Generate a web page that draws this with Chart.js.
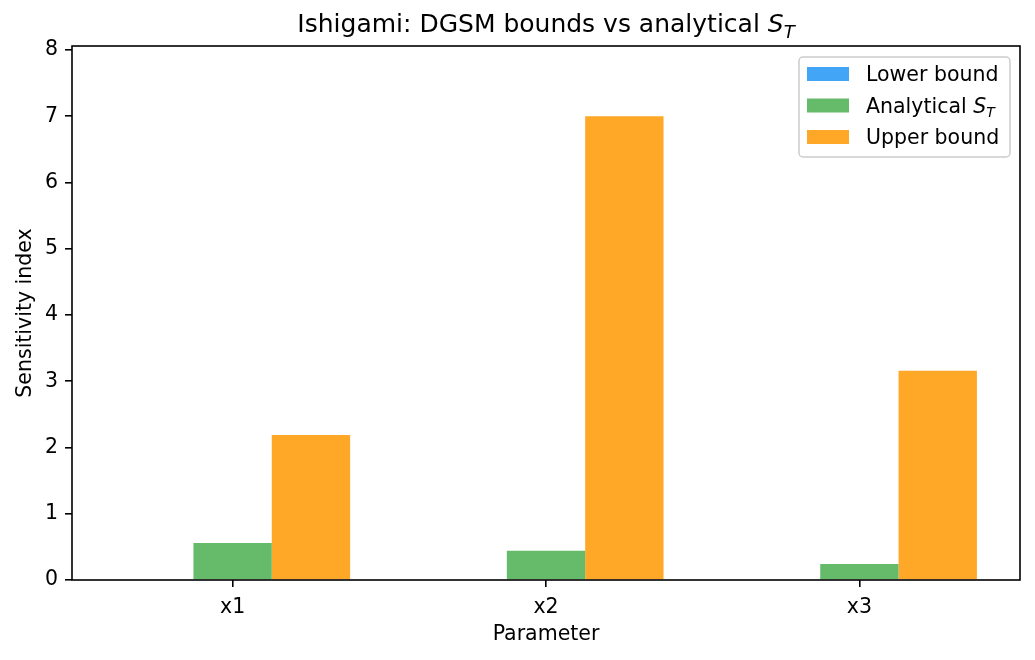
<!DOCTYPE html>
<html>
<head>
<meta charset="utf-8">
<script src="https://cdn.jsdelivr.net/npm/chart.js@4"></script>
<style>
    body { margin: 0; background: #fff; }
</style>
</head>
<body>
<canvas id="dgsmChart" width="1035" height="660"></canvas>
<script>
// Data
const parameters = ['x1', 'x2', 'x3'];
const lowerBound = [0, 0, 0];
const analyticalST = [0.56, 0.44, 0.24];
const upperBound = [2.19, 7.0, 3.16];
const yTicks = [0, 1, 2, 3, 4, 5, 6, 7, 8];

const FONT = '"DejaVu Sans", sans-serif';
const TICK_SIZE = 20.5;
const TITLE_SIZE = 25;

// bars sit on a numeric x axis so the margins match the original
function toPoints(values) {
    return values.map((v, i) => ({ x: i, y: v }));
}

// Draws text followed by an italic S with subscript T
function drawWithST(ctx, text, x, y, size, align) {
    ctx.font = size + 'px ' + FONT;
    const w1 = ctx.measureText(text).width;
    ctx.font = 'italic ' + size + 'px ' + FONT;
    const w2 = ctx.measureText('S').width;
    const subSize = Math.round(size * 0.7);
    ctx.font = 'italic ' + subSize + 'px ' + FONT;
    const w3 = ctx.measureText('T').width;
    const total = w1 + w2 + w3;
    let left = x;
    if (align === 'center') left = x - total / 2;

    ctx.textAlign = 'left';
    ctx.textBaseline = 'alphabetic';
    ctx.font = size + 'px ' + FONT;
    ctx.fillText(text, left, y);
    ctx.font = 'italic ' + size + 'px ' + FONT;
    ctx.fillText('S', left + w1, y);
    ctx.font = 'italic ' + subSize + 'px ' + FONT;
    ctx.fillText('T', left + w1 + w2, y + size * 0.22);
}

// Title, axis titles, legend and the box around the plot
const decorations = {
    id: 'decorations',
    afterDraw(chart) {
        const ctx = chart.ctx;
        const area = chart.chartArea;
        ctx.save();
        ctx.fillStyle = '#000';

        // frame
        ctx.strokeStyle = '#000';
        ctx.lineWidth = 1.6;
        ctx.strokeRect(area.left, area.top, area.right - area.left, area.bottom - area.top);

        // title
        const cx = (area.left + area.right) / 2;
        drawWithST(ctx, 'Ishigami: DGSM bounds vs analytical ', cx, 32, TITLE_SIZE, 'center');

        // axis titles
        ctx.font = TICK_SIZE + 'px ' + FONT;
        ctx.textAlign = 'center';
        ctx.textBaseline = 'alphabetic';
        ctx.fillText('Parameter', cx, 640);
        ctx.save();
        ctx.translate(31, (area.top + area.bottom) / 2);
        ctx.rotate(-Math.PI / 2);
        ctx.fillText('Sensitivity index', 0, 0);
        ctx.restore();

        // legend
        const lx = 799, ly = 57, lw = 211, lh = 100;
        ctx.beginPath();
        ctx.roundRect(lx, ly, lw, lh, 4);
        ctx.fillStyle = 'rgba(255,255,255,0.8)';
        ctx.fill();
        ctx.strokeStyle = '#cccccc';
        ctx.lineWidth = 1.5;
        ctx.stroke();

        const rows = [74, 105.5, 137];
        chart.data.datasets.forEach((ds, i) => {
            ctx.fillStyle = ds.backgroundColor;
            ctx.fillRect(807, rows[i] - 7, 42, 14);
            ctx.fillStyle = '#000';
            if (ds.label === 'Analytical ST') {
                drawWithST(ctx, 'Analytical ', 866, rows[i] + 7, TICK_SIZE, 'left');
            } else {
                ctx.font = TICK_SIZE + 'px ' + FONT;
                ctx.textAlign = 'left';
                ctx.textBaseline = 'alphabetic';
                ctx.fillText(ds.label, 866, rows[i] + 7);
            }
        });
        ctx.restore();
    }
};

const ctx = document.getElementById('dgsmChart').getContext('2d');

const dgsmChart = new Chart(ctx, {
    type: 'bar',
    data: {
        datasets: [
            { label: 'Lower bound', data: toPoints(lowerBound), backgroundColor: '#42A5F5' },
            { label: 'Analytical ST', data: toPoints(analyticalST), backgroundColor: '#66BB6A' },
            { label: 'Upper bound', data: toPoints(upperBound), backgroundColor: '#FFA726' }
        ]
    },
    options: {
        responsive: false,
        animation: false,
        devicePixelRatio: 1,
        layout: { padding: { top: 46, right: 15, left: 0, bottom: 0 } },
        datasets: {
            bar: { categoryPercentage: 0.75, barPercentage: 1.0, borderWidth: 0 }
        },
        plugins: {
            legend: { display: false },
            title: { display: false },
            tooltip: { enabled: false }
        },
        scales: {
            x: {
                type: 'linear',
                min: -0.5125,
                max: 2.5125,
                offset: false,
                grid: { drawOnChartArea: false, offset: false, tickLength: 7, color: '#000', lineWidth: 1.6 },
                border: { display: false },
                ticks: {
                    color: '#000',
                    font: { family: FONT, size: TICK_SIZE },
                    padding: 8,
                    callback: value => parameters[value]
                },
                afterBuildTicks(scale) {
                    scale.ticks = parameters.map((p, i) => ({ value: i }));
                },
                afterFit(scale) { scale.height = 80; }
            },
            y: {
                min: 0,
                max: 8.06,
                grid: { drawOnChartArea: false, tickLength: 7, color: '#000', lineWidth: 1.6 },
                border: { display: false },
                ticks: { color: '#000', font: { family: FONT, size: TICK_SIZE }, padding: 7 },
                afterBuildTicks(scale) {
                    scale.ticks = yTicks.map(v => ({ value: v }));
                },
                afterFit(scale) { scale.width = 72; }
            }
        }
    },
    plugins: [decorations]
});
</script>
</body>
</html>
